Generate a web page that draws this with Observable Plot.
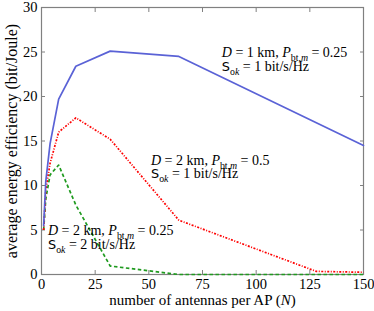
<!DOCTYPE html>
<html>
<head>
<meta charset="utf-8">
<script src="https://cdn.jsdelivr.net/npm/d3@7"></script>
<script src="https://cdn.jsdelivr.net/npm/@observablehq/plot@0.6"></script>
<style>
  html, body { margin: 0; padding: 0; background: #fff; }
</style>
</head>
<body>
<div id="chart"></div>
<script>
// Data
const nBlue = [1, 2, 4, 8, 16, 32, 64, 150];
const eeBlue = [5.5, 10.5, 14.7, 19.7, 23.4, 25.1, 24.5, 14.5];

const nRed = [1, 2, 4, 8, 16, 32, 64, 128, 150];
const eeRed = [5.0, 9.5, 12.5, 16.0, 17.6, 15.2, 6.1, 0.35, 0.25];

const nGreen = [1, 2, 4, 8, 16, 32, 64, 128, 150];
const eeGreen = [5.0, 8.5, 11.2, 12.3, 7.8, 0.95, 0.0, 0.0, 0.0];

const xTicks = [0, 25, 50, 75, 100, 125, 150];
const yTicks = [0, 5, 10, 15, 20, 25, 30];

// Annotation lines (markup: *italic*, _{subscript}, ~sans~)
const labelText = [
  "*D* = 1 km, *P*_{bt,*m*} = 0.25",
  "~S~_{o*k*} = 1 bit/s/Hz",
  "*D* = 2 km, *P*_{bt,*m*} = 0.5",
  "~S~_{o*k*} = 1 bit/s/Hz",
  "*D* = 2 km, *P*_{bt,*m*} = 0.25",
  "~S~_{o*k*} = 2 bit/s/Hz"
];
const labelN = [84, 84, 51, 51, 3, 3];
const labelEE = [24.4, 22.9, 12.3, 10.8, 4.4, 2.9];

const xLabel = "number of antennas per AP (*N*)";
const yLabel = "average energy efficiency (bit/Joule)";

const blue = nBlue.map((n, i) => ({n, ee: eeBlue[i]}));
const red = nRed.map((n, i) => ({n, ee: eeRed[i]}));
const green = nGreen.map((n, i) => ({n, ee: eeGreen[i]}));
const labels = labelText.map((t, i) => ({t, n: labelN[i], ee: labelEE[i]}));

const axisColor = "#808080";
const fs = 14;
const serif = "Liberation Serif";

const chart = Plot.plot({
  width: 374,
  height: 311,
  marginLeft: 41,
  marginRight: 11,
  marginTop: 7,
  marginBottom: 37,
  style: {fontFamily: serif, fontSize: fs + "px", color: "#000", background: "#fff"},
  x: {domain: [0, 150]},
  y: {domain: [0, 30]},
  marks: [
    // inward ticks on all sides
    Plot.axisX({anchor: "bottom", ticks: xTicks, tickSize: -4, stroke: axisColor, tickFormat: () => "", label: null}),
    Plot.axisX({anchor: "top", ticks: xTicks, tickSize: -4, stroke: axisColor, tickFormat: () => "", label: null}),
    Plot.axisY({anchor: "left", ticks: yTicks, tickSize: -4, stroke: axisColor, tickFormat: () => "", label: null}),
    Plot.axisY({anchor: "right", ticks: yTicks, tickSize: -4, stroke: axisColor, tickFormat: () => "", label: null}),
    // tick labels
    Plot.axisX({anchor: "bottom", ticks: xTicks, tickSize: 0, tickPadding: 4, fontSize: 14.5, label: null}),
    Plot.axisY({anchor: "left", ticks: yTicks, tickSize: 0, tickPadding: 4, fontSize: 14.5, label: null}),
    // axis titles
    Plot.axisX({anchor: "bottom", ticks: [], tickSize: 0, fontSize: 15,
      label: xLabel, labelAnchor: "center", labelOffset: 30, labelArrow: "none"}),
    Plot.axisY({anchor: "left", ticks: [], tickSize: 0, fontSize: 16,
      label: yLabel, labelAnchor: "center", labelOffset: 36, labelArrow: "none"}),
    Plot.frame({stroke: axisColor, strokeWidth: 1.2}),
    Plot.line(green, {x: "n", y: "ee", stroke: "#1f9a1f", strokeWidth: 1.7, strokeDasharray: "3.5,2.5", strokeLinecap: "butt"}),
    Plot.line(red, {x: "n", y: "ee", stroke: "#ff0000", strokeWidth: 1.7, strokeDasharray: "2,1.5,1,1.5", strokeLinecap: "butt"}),
    Plot.line(blue, {x: "n", y: "ee", stroke: "#5a62d6", strokeWidth: 1.7}),
    Plot.text(labels, {x: "n", y: "ee", text: "t", textAnchor: "start", lineAnchor: "bottom", fontSize: fs, fill: "#000"})
  ]
});

document.getElementById("chart").appendChild(chart);

// Render simple markup into tspans
function renderMarkup(el, src) {
  const size = parseFloat(getComputedStyle(el).fontSize) || fs;
  const segs = [];
  let it = false, sub = false, sans = false, buf = "";
  const push = () => { if (buf) { segs.push({t: buf, it, sub, sans}); buf = ""; } };
  for (let i = 0; i < src.length; i++) {
    const c = src[i];
    if (c === "*") { push(); it = !it; }
    else if (c === "~") { push(); sans = !sans; }
    else if (c === "_" && src[i + 1] === "{") { push(); sub = true; i++; }
    else if (c === "}" && sub) { push(); sub = false; }
    else buf += c;
  }
  push();
  const sel = d3.select(el);
  sel.text("");
  let cur = 0;
  for (const s of segs) {
    const target = s.sub ? 0.28 : 0;
    const ts = sel.append("tspan").text(s.t);
    if (target !== cur) { ts.attr("dy", (target - cur) * size); cur = target; }
    if (s.it) ts.attr("font-style", "italic");
    if (s.sub) ts.style("font-size", (size * 0.7) + "px");
    ts.style("font-family", s.sans ? "'DejaVu Sans', sans-serif" : serif);
    if (s.sans) ts.style("font-size", (size * 0.92) + "px");
  }
}

d3.select(chart).selectAll("text").each(function () {
  this.style.fontFamily = serif;
  const txt = this.textContent;
  if (txt.includes("*") || txt.includes("~")) renderMarkup(this, txt);
});
</script>
</body>
</html>
